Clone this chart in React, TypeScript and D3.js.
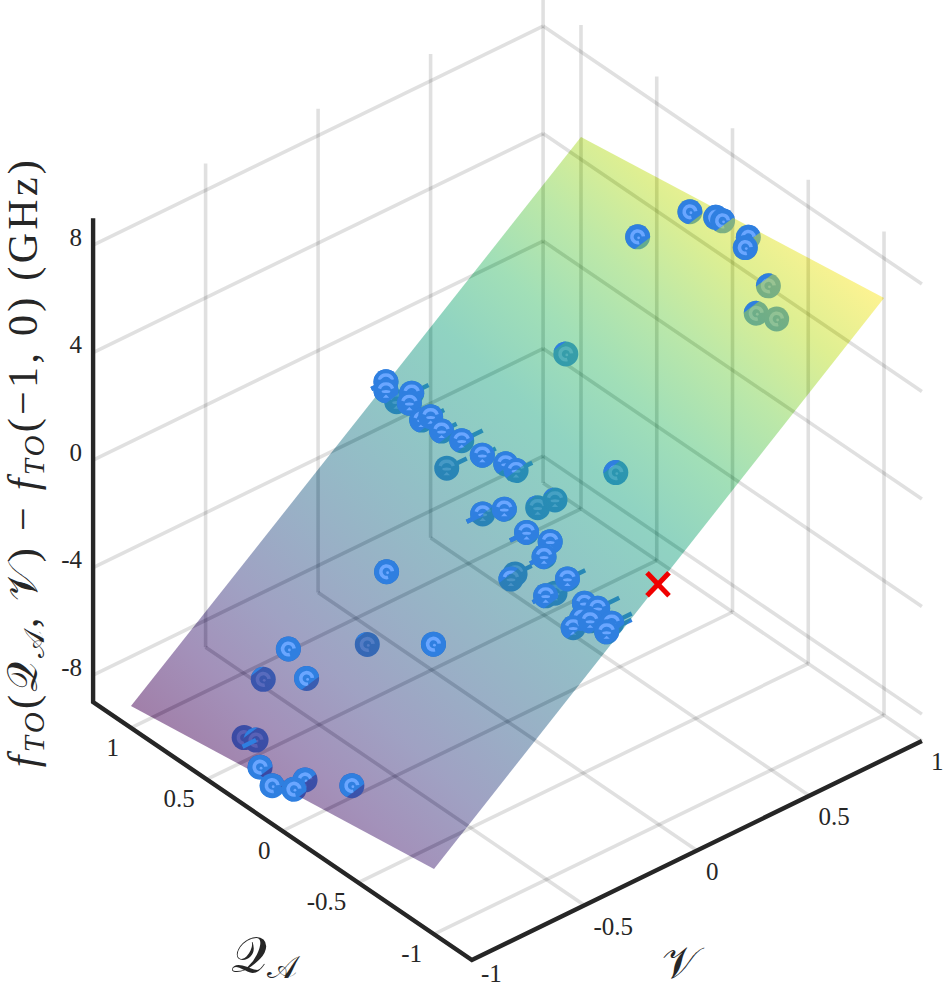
import * as d3 from "d3";

// axis ticks
const qTicks = [-1, -0.5, 0, 0.5, 1];
const vTicks = [-1, -0.5, 0, 0.5, 1];
const zTicks = [-8, -4, 0, 4, 8];
const qRange = [-1.25, 1.25];
const vRange = [-1, 1];
const zRange = [-9, 9];

// fitted surface, corners
const surfQ = [1, -1, -1, 1];
const surfV = [-1, -1, 1, 1];
const surfZ = [-8.19, -6.57, 6.52, 4.83];

// measured points (QA, V, f difference), V error bar lengths, highlight kind
const qVals = [
  0.338, 0.183, 0.047, 0.018, -0.158, -0.221, -0.39, -0.43, -0.526, 0.313,
  0.967, 0.934, 0.935, 0.806, 0.78, 0.669, 0.632, 0.536, 0.415, 0.239,
  0.459, 0.138, 0.077, -0.366, 0.073, -0.053, -0.116, -0.168, -0.242, -0.393,
  -0.412, 0.256, -0.246, -0.281, -0.602, -0.555, -0.502, -0.766, -0.846, -0.809,
  -0.784, -0.857, -0.958, -0.978, 0.174, -0.227, 0.429, 0.525, 0.264, 0.412,
  0.332, 0.151, 0.031, -0.085, -0.095, -0.339,
];
const vVals = [
  0.806, 0.934, 0.957, 0.968, 0.964, 0.908, 0.897, 0.816, 0.842, 0.47,
  0.111, 0.089, 0.137, 0.117, 0.089, 0.069, 0.084, 0.068, 0.076, 0.049,
  0.039, 0.085, 0.09, 0.235, -0.061, -0.05, 0.056, 0.098, -0.078, -0.075,
  -0.115, -0.365, -0.132, -0.174, -0.139, -0.204, -0.127, -0.174, -0.169, -0.215,
  -0.236, -0.21, -0.182, -0.218, -0.506, -0.482, -0.685, -0.732, -0.715, -0.893,
  -0.894, -0.998, -1.025, -0.957, -1.013, -0.92,
];
const zVals = [
  4.452, 5.457, 5.68, 5.616, 5.696, 5.782, 5.051, 4.515, 4.565, 1.559,
  -0.528, -0.644, -1.251, -0.355, -0.516, -0.634, -0.426, -0.531, -0.458, -0.208,
  -1.496, -0.29, -0.326, 0.709, -1.309, -0.693, -0.828, -0.511, -0.718, -0.494,
  -0.819, -2.925, -2.028, -1.913, -0.818, -1.361, -1.782, -0.95, -0.852, -1.183,
  -1.54, -1.11, -0.923, -1.022, -4.738, -3.289, -5.159, -6.466, -5.498, -7.543,
  -7.324, -7.212, -7.329, -6.948, -7.026, -6.337,
];
const errHigh = [
  0, 0, 0, 0, 0, 0, 0, 0, 0, 0,
  0, 0, 0, 0.075, 0, 0, 0.06, 0.067, 0.093, 0.06,
  0.089, 0, 0.072, 0, 0, 0, 0, 0, 0, 0,
  0, 0, 0.074, 0, 0.079, 0, 0, 0, 0.096, 0,
  0, 0, 0.089, 0.111, 0, 0, 0, 0, 0, 0,
  0, 0, 0, 0, 0, 0,
];
const errLow = [
  0, 0, 0, 0, 0, 0, 0, 0, 0, 0,
  0.065, 0, 0, 0, 0, 0, 0, 0, 0, 0,
  0, 0, 0, 0, 0.071, 0, 0, 0, 0.074, 0,
  0.062, 0, 0, 0, 0, 0.058, 0, 0, 0, 0,
  0, 0, 0, 0, 0, 0, 0, 0, 0, 0,
  0.06, 0, 0, 0, 0, 0,
];
const archKind = [
  0, 0, 0, 0, 0, 0, 0, 0, 0, 0,
  1, 1, 1, 1, 1, 1, 1, 1, 1, 1,
  1, 1, 1, 0, 1, 1, 1, 1, 1, 1,
  1, 0, 1, 1, 1, 1, 1, 1, 1, 1,
  1, 1, 1, 1, 0, 0, 0, 0, 0, 0,
  0, 0, 0, 0, 0, 0,
];

const BLUE = "#2f7fe0";
const LIGHT = "#6aa6ff";
const INK = "#262626";
const TEXT_FONT = "'Liberation Serif', serif";
const R = 12.5;

// orthographic view, one scale per data axis
const xFromQ = d3.scaleLinear().domain(qRange).range([189.4, -189.4]);
const xFromV = d3.scaleLinear().domain(vRange).range([-225, 225]);
const yFromQ = d3.scaleLinear().domain(qRange).range([129, -129]);
const yFromV = d3.scaleLinear().domain(vRange).range([109.5, -109.5]);
const yFromZ = d3.scaleLinear().domain(zRange).range([241.9, -241.9]);

const project = (q: number, v: number, z: number): [number, number] => [
  507.5 + xFromQ(q) + xFromV(v),
  479.6 + yFromQ(q) + yFromV(v) + yFromZ(z),
];

// plane through the surface corners
const planeC = d3.mean(surfZ) as number;
const planeA = (surfZ[0] + surfZ[3] - surfZ[1] - surfZ[2]) / 4;
const planeB = (surfZ[2] + surfZ[3] - surfZ[0] - surfZ[1]) / 4;
const plane = (q: number, v: number) => planeC + planeA * q + planeB * v;

const line = (a: [number, number], b: [number, number]) => `M${a[0]},${a[1]}L${b[0]},${b[1]}`;

function gridPaths() {
  const [qMin, qMax] = qRange;
  const [vMin, vMax] = vRange;
  const [zMin, zMax] = zRange;
  const out: string[] = [];
  qTicks.forEach((q) => {
    out.push(line(project(q, vMin, zMin), project(q, vMax, zMin)));
    out.push(line(project(q, vMax, zMin), project(q, vMax, zMax)));
  });
  vTicks.forEach((v) => {
    out.push(line(project(qMin, v, zMin), project(qMax, v, zMin)));
    if (v > vMin) out.push(line(project(qMax, v, zMin), project(qMax, v, zMax)));
  });
  zTicks.forEach((z) => {
    out.push(line(project(qMax, vMin, z), project(qMax, vMax, z)));
    out.push(line(project(qMax, vMax, z), project(qMin, vMax, z)));
  });
  return out;
}

function surfaceGradient() {
  const p = surfQ.map((q, i) => project(q, surfV[i], surfZ[i]));
  const zLo = d3.min(surfZ) as number;
  const zHi = d3.max(surfZ) as number;
  const ax = p[1][0] - p[0][0];
  const ay = p[1][1] - p[0][1];
  const bx = p[3][0] - p[0][0];
  const by = p[3][1] - p[0][1];
  const dA = surfZ[1] - surfZ[0];
  const dB = surfZ[3] - surfZ[0];
  const det = ax * by - ay * bx;
  const gx = (dA * by - dB * ay) / det;
  const gy = (ax * dB - bx * dA) / det;
  const k = (zHi - zLo) / (gx * gx + gy * gy);
  return { x1: p[0][0], y1: p[0][1], x2: p[0][0] + gx * k, y2: p[0][1] + gy * k };
}

// the part of a ball that is above the plane, cut by a straight chord
function frontClip(cx: number, cy: number, t: number) {
  const n = [-0.6, -0.8];
  const u = [0.8, -0.6];
  const pts = [
    [cx + n[0] * t - u[0] * 30, cy + n[1] * t - u[1] * 30],
    [cx + n[0] * t + u[0] * 30, cy + n[1] * t + u[1] * 30],
    [cx + n[0] * (t + 40) + u[0] * 30, cy + n[1] * (t + 40) + u[1] * 30],
    [cx + n[0] * (t + 40) - u[0] * 30, cy + n[1] * (t + 40) - u[1] * 30],
  ];
  return pts.map((d) => d.join(",")).join(" ");
}

const arc = d3.arc();
const deg = Math.PI / 180;

function Ball({ x, y, arch }: { x: number; y: number; arch: number }) {
  return (
    <g transform={`translate(${x},${y})`}>
      <circle r={R} fill={BLUE} />
      {arch ? (
        <g fill={LIGHT}>
          <path d={arc({ innerRadius: 5.2, outerRadius: 8.6, startAngle: -72 * deg, endAngle: 72 * deg }) as string} />
          <ellipse cx={0} cy={0.8} rx={4.4} ry={1.5} />
          <path d={d3.line()([[-3.2, 7], [0, 3.8], [3.2, 7]]) as string} />
        </g>
      ) : (
        <g fill={LIGHT}>
          <path d={arc({ innerRadius: 4, outerRadius: 7.6, startAngle: 165 * deg, endAngle: 445 * deg }) as string} />
          <circle cx={1} cy={1} r={1.4} />
        </g>
      )}
    </g>
  );
}

export default function App() {
  const points = qVals.map((q, i) => {
    const [x, y] = project(q, vVals[i], zVals[i]);
    const t = -25 * (zVals[i] - plane(q, vVals[i]));
    const lo = project(q, vVals[i] - errLow[i], zVals[i]);
    const hi = project(q, vVals[i] + errHigh[i], zVals[i]);
    return { x, y, t, lo, hi, arch: archKind[i], i };
  });
  const corners = surfQ.map((q, i) => project(q, surfV[i], surfZ[i]));
  const grid = gridPaths();
  const grad = surfaceGradient();
  const stops = d3.range(0, 1.001, 0.1);
  const cross = project(-1, 0, 0);
  const A = project(qRange[1], vRange[0], zRange[0]);
  const B = project(qRange[0], vRange[0], zRange[0]);
  const C = project(qRange[0], vRange[1], zRange[0]);
  const T = project(qRange[1], vRange[0], zRange[1]);
  const tick = { fontFamily: TEXT_FONT, fontSize: 25, fill: INK };
  const titleSize = 42;
  const subSize = 29;

  return (
    <svg
      width={943}
      height={989}
      viewBox="0 0 943 989"
      style={{ position: "absolute", left: 0, top: 0, background: "#fff" }}
    >
      <defs>
        <linearGradient id="surfGrad" gradientUnits="userSpaceOnUse" {...grad}>
          {stops.map((s) => (
            <stop key={s} offset={s} stopColor={d3.interpolateViridis(s)} />
          ))}
        </linearGradient>
        <clipPath id="surfClip">
          <polygon points={corners.map((d) => d.join(",")).join(" ")} />
        </clipPath>
        {points.map((p) => (
          <clipPath key={p.i} id={`front${p.i}`}>
            <polygon points={frontClip(p.x, p.y, p.t)} />
          </clipPath>
        ))}
      </defs>

      {/* box grid */}
      <g fill="none" stroke="#000" strokeWidth={3.6}>
        {grid.map((d, i) => (
          <path key={i} d={d} strokeOpacity={0.12} />
        ))}
        <g clipPath="url(#surfClip)">
          {grid.map((d, i) => (
            <path key={i} d={d} strokeOpacity={0.1} />
          ))}
        </g>
      </g>

      {/* balls and error bars seen through the surface */}
      <g>
        {points.map((p) => (
          <path key={p.i} d={line(p.lo, p.hi)} stroke={BLUE} strokeWidth={4.4} fill="none" />
        ))}
        {points.map((p) => (
          <Ball key={p.i} x={p.x} y={p.y} arch={p.arch} />
        ))}
      </g>

      <polygon
        points={corners.map((d) => d.join(",")).join(" ")}
        fill="url(#surfGrad)"
        fillOpacity={0.5}
      />

      {/* parts above the surface */}
      <g>
        {points.map((p) => (
          <path key={p.i} d={line(p.lo, [p.x, p.y])} stroke={BLUE} strokeWidth={4.4} fill="none" />
        ))}
        {points
          .filter((p) => p.t < R)
          .map((p) => (
            <g key={p.i} clipPath={`url(#front${p.i})`}>
              <Ball x={p.x} y={p.y} arch={p.arch} />
            </g>
          ))}
      </g>

      {/* reference point */}
      <g stroke="#f00000" strokeWidth={5} fill="none">
        <path d={`M${cross[0] - 12},${cross[1] - 10}L${cross[0] + 10},${cross[1] + 13}`} />
        <path d={`M${cross[0] + 10},${cross[1] - 10}L${cross[0] - 12},${cross[1] + 13}`} />
      </g>

      {/* axes */}
      <path
        d={`M${T[0]},${T[1]}L${A[0]},${A[1]}L${B[0]},${B[1]}L${C[0]},${C[1]}`}
        fill="none"
        stroke={INK}
        strokeWidth={4.4}
      />

      {zTicks.map((z) => (
        <text key={z} x={82} y={project(qRange[1], vRange[0], z)[1] - 8} dy="0.35em" textAnchor="end" {...tick}>
          {z}
        </text>
      ))}
      {qTicks.map((q) => {
        const [x, y] = project(q, vRange[0], zRange[0]);
        return (
          <text key={q} x={x - 12} y={y + 19} dy="0.35em" textAnchor="end" {...tick}>
            {q}
          </text>
        );
      })}
      {vTicks.map((v) => {
        const [x, y] = project(qRange[0], v, zRange[0]);
        return (
          <text key={v} x={x + 9} y={Math.min(y + 20.5, 973.5)} dy="0.35em" textAnchor="start" {...tick}>
            {v}
          </text>
        );
      })}

      <text
        transform="translate(37,462) rotate(-90)"
        textAnchor="middle"
        fontFamily={TEXT_FONT}
        fontSize={titleSize}
        letterSpacing={3.3}
        fill={INK}
      >
        <tspan fontStyle="italic">f</tspan>
        <tspan fontStyle="italic" fontSize={subSize} dy={7}>TO</tspan>
        <tspan dy={-7}>(𝒬</tspan>
        <tspan fontSize={subSize} dy={7}>𝒜</tspan>
        <tspan dy={-7}>, 𝒱) − </tspan>
        <tspan fontStyle="italic">f</tspan>
        <tspan fontStyle="italic" fontSize={subSize} dy={7}>TO</tspan>
        <tspan dy={-7}>(−1, 0) (GHz)</tspan>
      </text>

      <text x={264} y={972} textAnchor="middle" fontFamily={TEXT_FONT} fontSize={50} fill={INK}>
        <tspan>𝒬</tspan>
        <tspan fontSize={32} dy={6}>𝒜</tspan>
      </text>
      <text x={680} y={978} textAnchor="middle" fontFamily={TEXT_FONT} fontSize={44} fill={INK}>
        𝒱
      </text>
    </svg>
  );
}
